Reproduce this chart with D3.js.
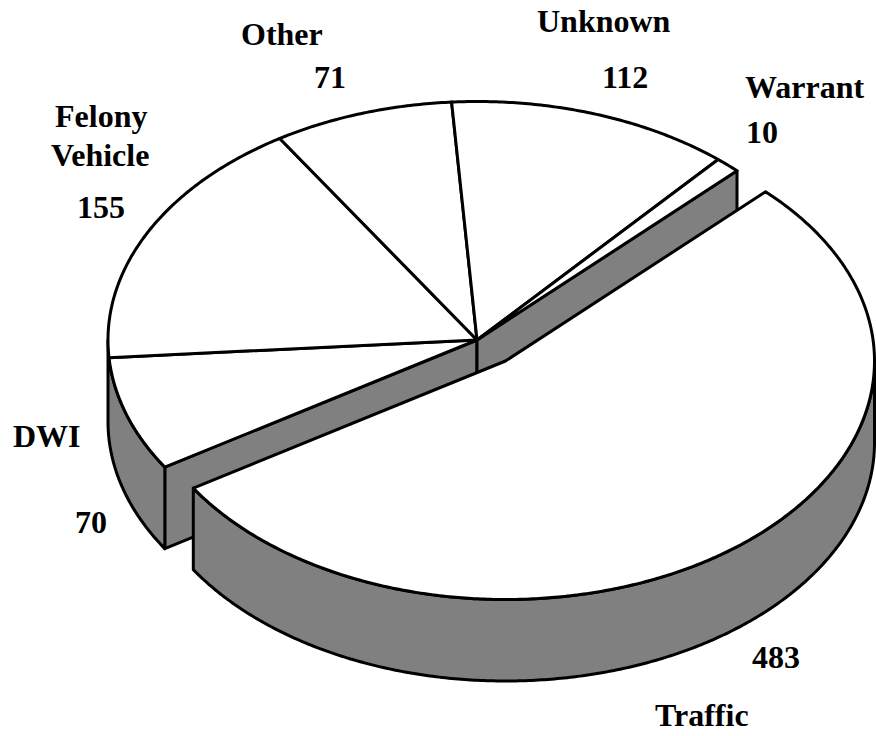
<!DOCTYPE html>
<html>
<head>
<meta charset="utf-8">
<script src="https://cdn.jsdelivr.net/npm/d3@7"></script>
<style>
  html, body { margin: 0; padding: 0; background: #fff; }
  text { font-family: "Liberation Serif", serif; font-weight: bold; font-size: 32px; fill: #000; }
</style>
</head>
<body>
<svg id="chart" width="876" height="736"></svg>
<script>
const categories = ["Traffic", "DWI", "Felony Vehicle", "Other", "Unknown", "Warrant"];
const values = [483, 70, 155, 71, 112, 10];

// label placement, same order as categories: lines of the name, then the value
const nameLines = [["Traffic"], ["DWI"], ["Felony", "Vehicle"], ["Other"], ["Unknown"], ["Warrant"]];
const namePos = [[[655, 726]], [[13, 447]], [[55, 127], [51, 166]], [[241, 45]], [[537, 32]], [[745, 98]]];
const valuePos = [[752, 668], [75, 533], [77, 218], [314, 88], [602, 88], [746, 143]];

const width = 876;
const height = 736;
const center = { x: 477, y: 340 };
const rx = 369;
const ry = 238.5;
const depth = 81.5;
const explode = { x: 28.5, y: 21 };
const rad = Math.PI / 180;

const svg = d3.select("#chart");

const x = d3.scaleLinear().domain([-1, 1]).range([center.x - rx, center.x + rx]);
const y = d3.scaleLinear().domain([-1, 1]).range([center.y - ry, center.y + ry]);

// angle 0 is straight up, clockwise, same as d3.pie
const px = (a, r = 1) => x(r * Math.sin(a));
const py = (a, r = 1) => y(-r * Math.cos(a));

const line = d3.line();

const arcPoints = (a0, a1, z = 0) => {
  const n = Math.max(2, Math.ceil(Math.abs(a1 - a0) / (rad / 2)));
  return d3.range(n + 1).map((i) => {
    const a = a0 + ((a1 - a0) * i) / n;
    return [px(a), py(a) + z];
  });
};

const pie = d3.pie().sort(null).startAngle(44.8 * rad).endAngle(404.8 * rad);
const slices = pie(values);
const traffic = slices[0];
const rest = slices.slice(1);

const drawShape = (g, points, fill) => {
  g.append("path")
    .attr("d", line(points) + "Z")
    .attr("fill", fill)
    .attr("stroke", "#000")
    .attr("stroke-width", 3)
    .attr("stroke-linejoin", "round");
};

const hub = [x(0), y(0)];
const grey = "#808080";

// main pie first, the exploded slice sits on top of it
const mainG = svg.append("g");

// cut faces left open by the traffic slice
[traffic.endAngle, traffic.startAngle].forEach((a) => {
  const edge = [px(a), py(a)];
  drawShape(mainG, [hub, edge, [edge[0], edge[1] + depth], [hub[0], hub[1] + depth]], grey);
});

// outer wall
drawShape(
  mainG,
  arcPoints(traffic.endAngle, 270 * rad).concat(arcPoints(270 * rad, traffic.endAngle, depth)),
  grey
);

rest.forEach((d) => {
  drawShape(mainG, [hub].concat(arcPoints(d.startAngle, d.endAngle)), "#fff");
});

// exploded traffic slice
const trafficG = svg.append("g").attr("transform", `translate(${explode.x},${explode.y})`);

drawShape(
  trafficG,
  arcPoints(90 * rad, traffic.endAngle).concat(arcPoints(traffic.endAngle, 90 * rad, depth)),
  grey
);
drawShape(trafficG, [hub].concat(arcPoints(traffic.startAngle, traffic.endAngle)), "#fff");

// labels
const labels = svg.append("g");
categories.forEach((c, i) => {
  nameLines[i].forEach((t, j) => {
    labels.append("text").attr("x", namePos[i][j][0]).attr("y", namePos[i][j][1]).text(t);
  });
  labels.append("text").attr("x", valuePos[i][0]).attr("y", valuePos[i][1]).text(values[i]);
});
</script>
</body>
</html>
